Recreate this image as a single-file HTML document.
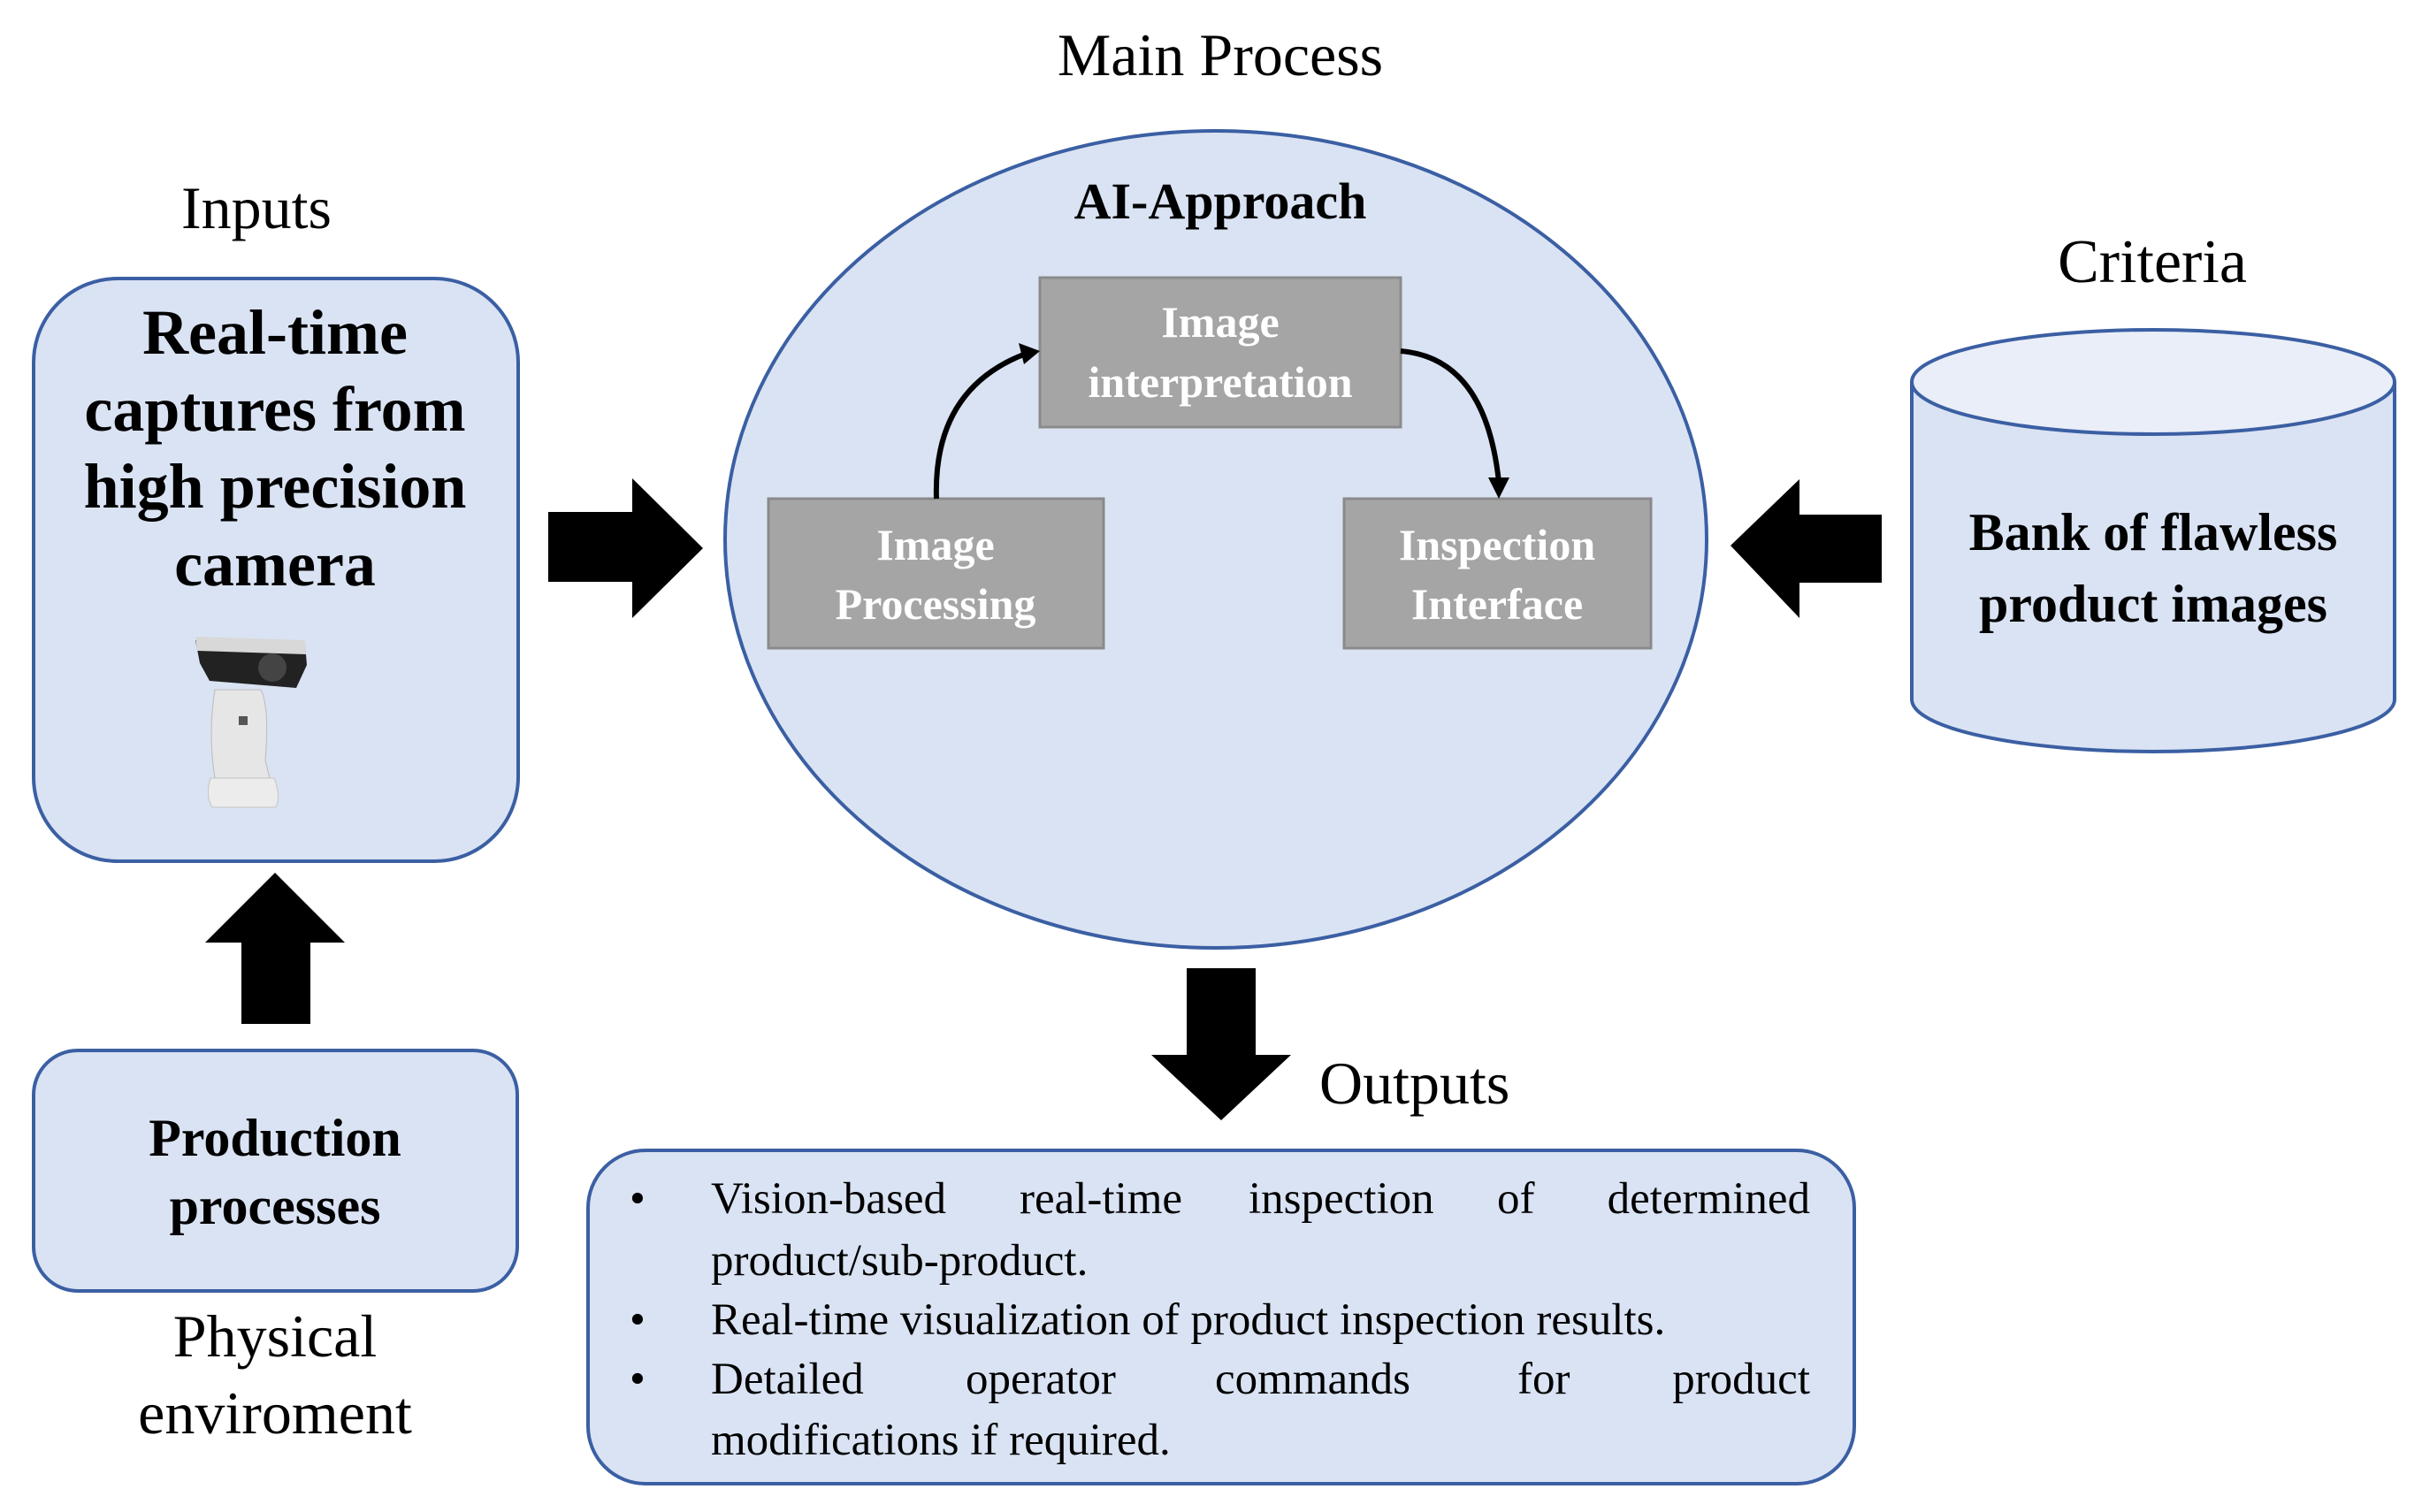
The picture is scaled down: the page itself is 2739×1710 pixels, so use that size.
<!DOCTYPE html>
<html><head><meta charset="utf-8"><style>html,body{margin:0;padding:0;background:#fff}svg{display:block;font-family:"Liberation Serif","Times New Roman",serif}</style></head>
<body>
<svg width="2739" height="1710" viewBox="0 0 2739 1710" xmlns="http://www.w3.org/2000/svg">
<!-- headings -->
<text x="1380" y="85" font-size="68" text-anchor="middle">Main Process</text>
<text x="290" y="258" font-size="68" text-anchor="middle">Inputs</text>
<text x="2434" y="319" font-size="70" text-anchor="middle">Criteria</text>

<!-- left box -->
<rect x="38" y="315" width="548" height="659" rx="95" fill="#dae3f3" stroke="#3b5fa3" stroke-width="4"/>
<g font-size="72" font-weight="bold" text-anchor="middle">
<text x="311" y="400">Real-time</text>
<text x="311" y="487">captures from</text>
<text x="311" y="574">high precision</text>
<text x="311" y="662">camera</text>
</g>
<!-- camera -->
<g>
<path d="M221 724 L345 728 L347 752 L335 778 L237 770 L226 750 Z" fill="#222"/>
<path d="M221 720 L345 724 L346 740 L223 736 Z" fill="#d8d8d8"/>
<circle cx="308" cy="755" r="16" fill="#444"/>
<path d="M243 780 L295 780 Q305 800 300 860 L305 880 L243 880 Q235 830 243 780 Z" fill="#e6e6e6" stroke="#bbb"/>
<rect x="270" y="810" width="10" height="10" fill="#555"/>
<path d="M238 880 L310 880 Q318 900 312 913 L240 913 Q232 900 238 880 Z" fill="#ececec" stroke="#c4c4c4"/>
</g>

<!-- right arrow -->
<polygon points="620,579 715,579 715,541 795,620 715,699 715,658 620,658" fill="#000"/>

<!-- up arrow -->
<polygon points="311,987 390,1066 351,1066 351,1158 273,1158 273,1066 232,1066" fill="#000"/>

<!-- production box -->
<rect x="38" y="1188" width="547" height="272" rx="50" fill="#dae3f3" stroke="#3b5fa3" stroke-width="4"/>
<g font-size="60" font-weight="bold" text-anchor="middle">
<text x="311" y="1307">Production</text>
<text x="311" y="1384">processes</text>
</g>
<g font-size="68" text-anchor="middle">
<text x="311" y="1534">Physical</text>
<text x="311" y="1621">enviroment</text>
</g>

<!-- ellipse -->
<ellipse cx="1375" cy="610" rx="555" ry="462" fill="#dae3f3" stroke="#3b5fa3" stroke-width="4"/>
<text x="1380" y="247" font-size="58" font-weight="bold" text-anchor="middle">AI-Approach</text>
<rect x="1176" y="314" width="408" height="169" fill="#a5a5a5" stroke="#8a8a8a" stroke-width="3"/>
<rect x="869" y="564" width="379" height="169" fill="#a5a5a5" stroke="#8a8a8a" stroke-width="3"/>
<rect x="1520" y="564" width="347" height="169" fill="#a5a5a5" stroke="#8a8a8a" stroke-width="3"/>
<g font-size="50" font-weight="bold" text-anchor="middle" fill="#fff">
<text x="1380" y="381">Image</text>
<text x="1380" y="449">interpretation</text>
<text x="1058" y="633">Image</text>
<text x="1058" y="700">Processing</text>
<text x="1693" y="633">Inspection</text>
<text x="1693" y="700">Interface</text>
</g>
<path d="M1059 564 Q1055 440 1160 400" fill="none" stroke="#000" stroke-width="6"/>
<polygon points="1176,397 1152,388 1158,412" fill="#000"/>
<path d="M1584 397 Q1680 405 1695 545" fill="none" stroke="#000" stroke-width="6"/>
<polygon points="1695,564 1683,540 1707,540" fill="#000"/>

<!-- left arrow -->
<polygon points="1957,617 2035,542 2035,582 2128,582 2128,659 2035,659 2035,699" fill="#000"/>

<!-- cylinder -->
<path d="M2162 432 L2162 791 A273 59 0 0 0 2708 791 L2708 432" fill="#dae3f3" stroke="#3b5fa3" stroke-width="4"/>
<ellipse cx="2435" cy="432" rx="273" ry="59" fill="#e9eef8" stroke="#3b5fa3" stroke-width="4"/>
<g font-size="60" font-weight="bold" text-anchor="middle">
<text x="2435" y="622">Bank of flawless</text>
<text x="2435" y="703">product images</text>
</g>

<!-- down arrow -->
<polygon points="1342,1095 1420,1095 1420,1193 1460,1193 1381,1267 1302,1193 1342,1193" fill="#000"/>
<text x="1492" y="1248" font-size="68">Outputs</text>

<!-- outputs box -->
<rect x="665" y="1301" width="1432" height="377" rx="65" fill="#dae3f3" stroke="#3b5fa3" stroke-width="4"/>
<g font-size="51">
<text x="712" y="1372">•</text>
<text x="712" y="1509">•</text>
<text x="712" y="1576">•</text>
<text x="804" y="1372">Vision-based</text>
<text x="1153" y="1372">real-time</text>
<text x="1412" y="1372">inspection</text>
<text x="1693" y="1372">of</text>
<text x="2047" y="1372" text-anchor="end">determined</text>
<text x="804" y="1442">product/sub-product.</text>
<text x="804" y="1509">Real-time visualization of product inspection results.</text>
<text x="804" y="1576">Detailed</text>
<text x="1092" y="1576">operator</text>
<text x="1374" y="1576">commands</text>
<text x="1716" y="1576">for</text>
<text x="2047" y="1576" text-anchor="end">product</text>
<text x="804" y="1645">modifications if required.</text>
</g>
</svg>
</body></html>
